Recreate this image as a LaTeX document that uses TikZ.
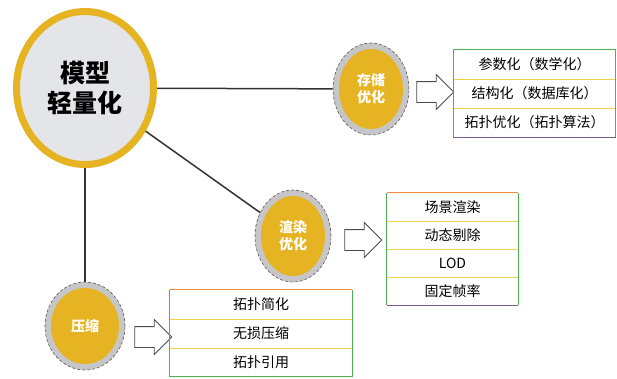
\documentclass[tikz,border=0pt]{standalone}
\usepackage{fontspec}
\setmainfont{Noto Sans CJK SC}
\usetikzlibrary{shapes.geometric,shapes.arrows}
\definecolor{gold}{HTML}{E6B422}
\definecolor{ring}{HTML}{C6C6C8}
\definecolor{core}{HTML}{E4E5E8}
\definecolor{bgreen}{HTML}{4CAF50}
\definecolor{borange}{HTML}{F08A3C}
\definecolor{byellow}{HTML}{F2D24A}
\definecolor{bpurple}{HTML}{7B5A8E}
\begin{document}
\begin{tikzpicture}[x=1pt,y=-1pt,
  big/.style={ellipse, draw=gold, line width=7pt, fill=core, minimum width=137pt, minimum height=153pt, inner sep=0pt,
    font=\bfseries\fontsize{25}{30}\selectfont, align=center},
  subout/.style={ellipse, draw=black!65, densely dashed, line width=0.6pt, fill=ring, inner sep=0pt},
  subin/.style={ellipse, fill=gold, inner sep=0pt, text=white, font=\bfseries\fontsize{14}{17}\selectfont, align=center},
  link/.style={draw=black!80, line width=1.5pt},
  blk/.style={single arrow, draw=black!70, line width=0.8pt, fill=white, minimum height=37pt,
    inner sep=10pt, single arrow head extend=7pt, anchor=center},
  row/.style={inner sep=0pt, minimum height=29pt, font=\fontsize{14}{17}\selectfont},
  frame/.style={draw=bgreen, line width=1pt},
  sep/.style={draw=byellow, line width=1pt}
]
\useasboundingbox (0,0) rectangle (617,378);
\fill[white] (0,0) rectangle (617,378);

% main circle
\node[big] (main) at (85,88) {模型\\轻量化};

% sub circles
\node[subout, minimum width=76pt, minimum height=92pt] (so) at (371,89) {};
\node[subin, minimum width=64pt, minimum height=80pt] (si) at (371,89) {存储\\优化};
\node[subout, minimum width=76pt, minimum height=92pt] (ro) at (293,236) {};
\node[subin, minimum width=64pt, minimum height=80pt] (ri) at (293,236) {渲染\\优化};
\node[subout, minimum width=80pt, minimum height=88pt] (co) at (85,326) {};
\node[subin, minimum width=68pt, minimum height=76pt] (ci) at (85,326) {压缩};

% links
\draw[link] (main) -- (so);
\draw[link] (main) -- (ro);
\draw[link] (main) -- (co);

% block arrows
\node[blk] (a1) at (430,92) {};
\node[blk] (a2) at (358,240) {};
\node[blk] (a3) at (148,337) {};

% box 1
\node[row, minimum width=162pt] (b1r1) at (534.5,64.5) {参数化（数学化）};
\node[row, minimum width=162pt] (b1r2) at (534.5,93.5) {结构化（数据库化）};
\node[row, minimum width=162pt] (b1r3) at (534.5,122.5) {拓扑优化（拓扑算法）};
\draw[sep] (b1r1.south west) -- (b1r1.south east);
\draw[sep] (b1r2.south west) -- (b1r2.south east);
\draw[frame] (b1r1.north west) -- (b1r1.north east);
\draw[frame] (b1r1.north east) -- (b1r3.south east);
\draw[frame] (b1r1.north west) -- (b1r3.south west);
\draw[draw=bpurple, line width=1pt] (b1r3.south west) -- (b1r3.south east);

% box 2
\node[row, minimum width=131pt, minimum height=28pt] (b2r1) at (452.5,207) {场景渲染};
\node[row, minimum width=131pt, minimum height=28pt] (b2r2) at (452.5,235) {动态剔除};
\node[row, minimum width=131pt, minimum height=28pt] (b2r3) at (452.5,263) {LOD};
\node[row, minimum width=131pt, minimum height=28pt] (b2r4) at (452.5,291) {固定帧率};
\draw[sep] (b2r1.south west) -- (b2r1.south east);
\draw[sep] (b2r2.south west) -- (b2r2.south east);
\draw[sep] (b2r3.south west) -- (b2r3.south east);
\draw[frame] (b2r1.north east) -- (b2r4.south east);
\draw[frame] (b2r1.north west) -- (b2r4.south west);
\draw[draw=borange, line width=1pt] (b2r1.north west) -- (b2r1.north east);
\draw[draw=bpurple, line width=1pt] (b2r4.south west) -- (b2r4.south east);

% box 3
\node[row, minimum width=182pt] (b3r1) at (261,304.5) {拓扑简化};
\node[row, minimum width=182pt] (b3r2) at (261,333.5) {无损压缩};
\node[row, minimum width=182pt] (b3r3) at (261,362) {拓扑引用};
\draw[sep] (b3r1.south west) -- (b3r1.south east);
\draw[sep] (b3r2.south west) -- (b3r2.south east);
\draw[frame] (b3r1.north east) -- (b3r3.south east);
\draw[frame] (b3r1.north west) -- (b3r3.south west);
\draw[frame] (b3r3.south west) -- (b3r3.south east);
\draw[draw=borange, line width=1pt] (b3r1.north west) -- (b3r1.north east);
\end{tikzpicture}
\end{document}
